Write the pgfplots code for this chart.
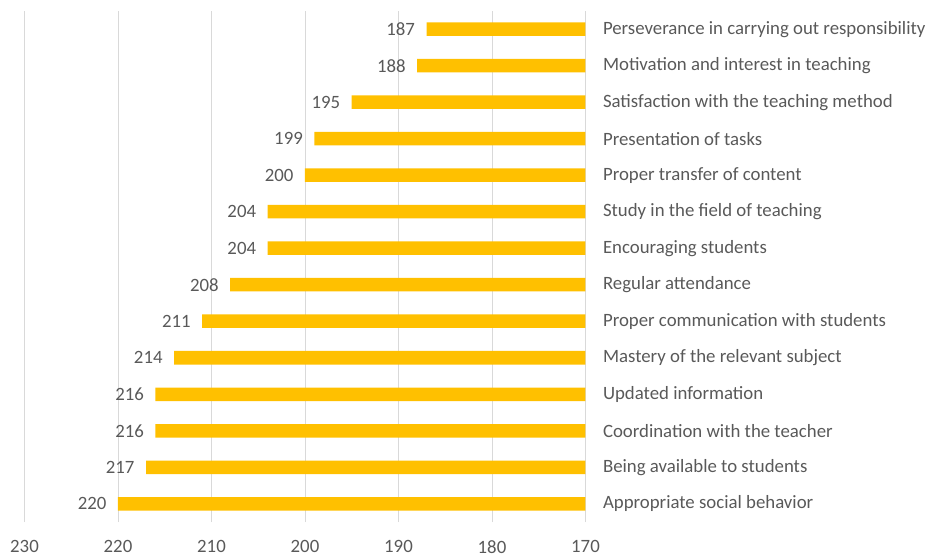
\documentclass[border=0pt]{standalone}
\usepackage{fontspec}
\setmainfont{Carlito}
\usepackage{pgfplots}
\pgfplotsset{compat=1.18}
\definecolor{barc}{HTML}{FFC000}
\definecolor{txt}{HTML}{595959}
\definecolor{gridc}{HTML}{D9D9D9}
\begin{document}
\begin{tikzpicture}
\useasboundingbox (-24.5pt,-35pt) rectangle (906.5pt,522pt);
\begin{axis}[
 anchor=south west,
 scale only axis, width=561pt, height=511pt,
 xmin=170, xmax=230, x dir=reverse,
 ymin=-0.5, ymax=13.5,
 xtick={170,180,...,230},
 ytick={0,...,13},
 yticklabels={Appropriate social behavior,Being available to students,Coordination with the teacher,Updated information,Mastery of the relevant subject,Proper communication with students,Regular attendance,Encouraging students,Study in the field of teaching,Proper transfer of content,Presentation of tasks,Satisfaction with the teaching method,Motivation and interest in teaching,Perseverance in carrying out responsibility},
 yticklabel pos=right,
 y tick label style={anchor=west, xshift=14pt},
 x tick label style={yshift=-15pt},
 xmajorgrids, grid style={gridc, line width=0.8pt},
 axis line style={draw=none},
 major tick length=0pt,
 tick label style={font=\fontsize{18.8}{22}\selectfont, text=txt},
 /pgf/number format/assume math mode=true,
 xbar, bar width=13.5pt,
 nodes near coords,
 nodes near coords style={anchor=east, xshift=-8pt, font=\fontsize{18.8}{22}\selectfont, text=txt},
 clip=true,
]
\addplot[fill=barc, draw=none] coordinates {
(220,0) (217,1) (216,2) (216,3) (214,4) (211,5) (208,6) (204,7) (204,8) (200,9) (199,10) (195,11) (188,12) (187,13)};
\end{axis}
\end{tikzpicture}
\end{document}
